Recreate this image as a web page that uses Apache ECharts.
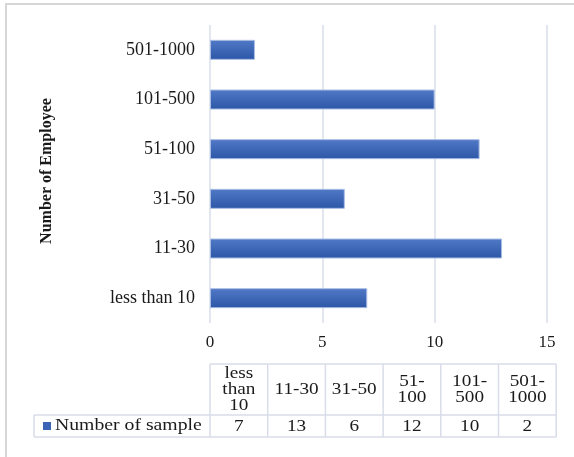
<!DOCTYPE html>
<html>
<head>
<meta charset="utf-8">
<script src="https://cdn.jsdelivr.net/npm/echarts@6/dist/echarts.min.js"></script>
<style>
  html, body { margin: 0; padding: 0; background: #fff; }
  #chart { width: 574px; height: 457px; }
</style>
</head>
<body>
<div id="chart"></div>
<script>
var categories = ['less than 10', '11-30', '31-50', '51-100', '101-500', '501-1000'];
var samples = [7, 13, 6, 12, 10, 2];
var tableHeads = ['less\nthan\n10', '11-30', '31-50', '51-\n100', '101-\n500', '501-\n1000'];
var seriesName = 'Number of sample';
var axisTitle = 'Number of Employee';

var serif = '"Liberation Serif", "Times New Roman", serif';
var lineCol = '#d8dde8';
var ink = '#1a1a1a';

var chart = echarts.init(document.getElementById('chart'));

// data table under the plot, built from the arrays
var tbl = [];
var colX = 210, colW = 57.7, headTop = 364, headBot = 415, rowBot = 437, legLeft = 34;

tbl.push({ type: 'rect', shape: { x: 6, y: 4, width: 620, height: 520 },
  style: { fill: 'none', stroke: '#d6d6d6', lineWidth: 2 }, silent: true });

function hline(x1, x2, y) {
  tbl.push({ type: 'line', shape: { x1: x1, y1: y, x2: x2, y2: y }, style: { stroke: lineCol, lineWidth: 1.5 } });
}
function vline(x, y1, y2) {
  tbl.push({ type: 'line', shape: { x1: x, y1: y1, x2: x, y2: y2 }, style: { stroke: lineCol, lineWidth: 1.5 } });
}
hline(colX, colX + colW * 6, headTop);
hline(legLeft, colX + colW * 6, headBot);
hline(legLeft, colX + colW * 6, rowBot);
vline(legLeft, headBot, rowBot);
for (var i = 0; i <= 6; i++) vline(colX + colW * i, headTop, rowBot);

for (var j = 0; j < categories.length; j++) {
  var cx = colX + colW * j + colW / 2;
  tbl.push({ type: 'text', x: cx, y: (headTop + headBot) / 2, scaleX: 1.2,
    style: { text: tableHeads[j], font: '16px ' + serif, fill: ink, align: 'center', verticalAlign: 'middle', lineHeight: 16 } });
  tbl.push({ type: 'text', x: cx, y: (headBot + rowBot) / 2 + 1, scaleX: 1.2,
    style: { text: String(samples[j]), font: '16px ' + serif, fill: ink, align: 'center', verticalAlign: 'middle' } });
}
tbl.push({ type: 'rect', shape: { x: 43, y: 422, width: 8, height: 8 }, style: { fill: '#3b64b4' } });
tbl.push({ type: 'text', x: 55, y: 426, scaleX: 1.16,
  style: { text: seriesName, font: '17px ' + serif, fill: ink, align: 'left', verticalAlign: 'middle' } });

option = {
  animation: false,
  backgroundColor: '#fff',
  grid: { left: 210, top: 25, width: 337, height: 298, containLabel: false },
  xAxis: {
    type: 'value',
    min: 0, max: 15, interval: 5,
    axisLine: { show: false },
    axisTick: { show: false },
    axisLabel: { margin: 11, fontFamily: serif, fontSize: 17, color: ink },
    splitLine: { lineStyle: { color: '#d9dfea', width: 1.5 } }
  },
  yAxis: {
    type: 'category',
    data: categories,
    name: axisTitle,
    nameLocation: 'middle',
    nameRotate: 90,
    nameGap: 155,
    nameTextStyle: { fontFamily: serif, fontWeight: 'bold', fontSize: 16, color: ink, padding: [0, 0, 0, 6] },
    axisLine: { show: false },
    axisTick: { show: false },
    axisLabel: { margin: 15, fontFamily: serif, fontSize: 18, color: ink }
  },
  series: [
    {
      name: seriesName,
      type: 'bar',
      data: samples,
      barWidth: 20,
      itemStyle: {
        color: new echarts.graphic.LinearGradient(0, 0, 0, 1, [
          { offset: 0, color: '#5179c7' },
          { offset: 1, color: '#2c57a6' }
        ]),
        borderColor: '#a9bde3',
        borderWidth: 1
      }
    }
  ],
  graphic: tbl
};

chart.setOption(option, true);
</script>
</body>
</html>
